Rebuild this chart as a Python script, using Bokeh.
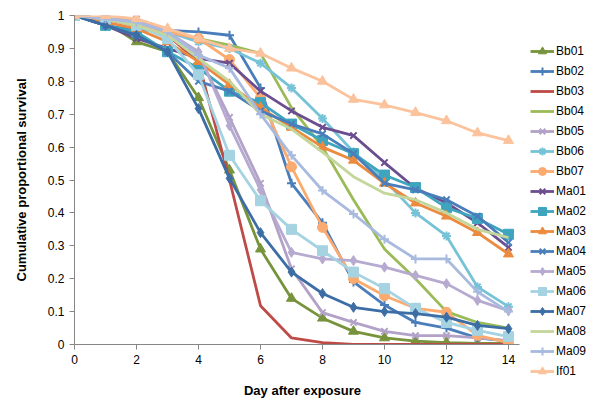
from bokeh.plotting import figure
from bokeh.models import Range1d, FixedTicker, CustomJSTickFormatter, Legend, LegendItem
from bokeh.embed import file_html
from bokeh.resources import INLINE

days = list(range(15))
x_ticks = [0, 2, 4, 6, 8, 10, 12, 14]
y_ticks = [0, 0.1, 0.2, 0.3, 0.4, 0.5, 0.6, 0.7, 0.8, 0.9, 1]

names = ["Bb01", "Bb02", "Bb03", "Bb04", "Bb05", "Bb06", "Bb07", "Ma01", "Ma02",
         "Ma03", "Ma04", "Ma05", "Ma06", "Ma07", "Ma08", "Ma09", "If01"]

Bb01 = [1, 0.98, 0.92, 0.89, 0.75, 0.53, 0.29, 0.14, 0.08, 0.04, 0.02, 0.01, 0.006, 0.003, 0.003]
Bb02 = [1, 0.97, 0.955, 0.955, 0.95, 0.94, 0.78, 0.49, 0.37, 0.19, 0.12, 0.067, 0.05, 0.02, 0.01]
Bb03 = [1, 0.99, 0.97, 0.94, 0.86, 0.50, 0.118, 0.02, 0.006, 0, 0, 0, 0, 0, 0]
Bb04 = [1, 0.99, 0.97, 0.95, 0.93, 0.91, 0.885, 0.72, 0.60, 0.44, 0.29, 0.20, 0.10, 0.067, 0.05]
Bb05 = [1, 0.99, 0.99, 0.95, 0.88, 0.69, 0.49, 0.23, 0.097, 0.067, 0.04, 0.027, 0.027, 0.02, 0.012]
Bb06 = [1, 0.99, 0.97, 0.95, 0.92, 0.90, 0.855, 0.78, 0.687, 0.585, 0.50, 0.40, 0.33, 0.175, 0.115]
Bb07 = [1, 0.99, 0.97, 0.95, 0.93, 0.866, 0.75, 0.54, 0.356, 0.20, 0.148, 0.11, 0.098, 0.028, 0.006]
Ma01 = [1, 0.97, 0.93, 0.90, 0.87, 0.855, 0.77, 0.71, 0.66, 0.635, 0.553, 0.475, 0.43, 0.37, 0.295]
Ma02 = [1, 0.97, 0.95, 0.89, 0.84, 0.77, 0.735, 0.67, 0.62, 0.58, 0.515, 0.477, 0.416, 0.383, 0.335]
Ma03 = [1, 0.98, 0.96, 0.92, 0.86, 0.79, 0.72, 0.66, 0.60, 0.56, 0.49, 0.43, 0.39, 0.34, 0.275]
Ma04 = [1, 0.97, 0.94, 0.89, 0.80, 0.77, 0.71, 0.67, 0.64, 0.58, 0.49, 0.47, 0.44, 0.39, 0.31]
Ma05 = [1, 0.99, 0.98, 0.95, 0.89, 0.665, 0.47, 0.28, 0.26, 0.255, 0.235, 0.21, 0.185, 0.134, 0.103]
Ma06 = [1, 0.99, 0.97, 0.93, 0.82, 0.575, 0.437, 0.35, 0.285, 0.22, 0.17, 0.11, 0.067, 0.043, 0.024]
Ma07 = [1, 0.97, 0.94, 0.89, 0.717, 0.505, 0.34, 0.22, 0.155, 0.113, 0.10, 0.094, 0.083, 0.058, 0.048]
Ma08 = [1, 0.99, 0.97, 0.94, 0.87, 0.80, 0.70, 0.655, 0.585, 0.51, 0.46, 0.44, 0.40, 0.35, 0.325]
Ma09 = [1, 0.99, 0.98, 0.95, 0.88, 0.84, 0.70, 0.575, 0.468, 0.397, 0.32, 0.26, 0.26, 0.16, 0.10]
If01 = [1, 1.0, 0.99, 0.96, 0.93, 0.90, 0.885, 0.84, 0.80, 0.745, 0.728, 0.705, 0.68, 0.643, 0.62]

values = [Bb01, Bb02, Bb03, Bb04, Bb05, Bb06, Bb07, Ma01, Ma02,
          Ma03, Ma04, Ma05, Ma06, Ma07, Ma08, Ma09, If01]

colors = ["#77933C", "#4A7EBB", "#BE4B48", "#9BBB59", "#B3A2C7", "#76C3D8", "#FBAB6F",
          "#6B4E8F", "#3FA5BE", "#EB8B3F", "#4A7EBB", "#B7AAD1", "#A5D3E2", "#3D6DA5",
          "#C3D69B", "#A9BADF", "#FBC29B"]
markers = ["triangle", "cross", None, None, "x", "asterisk", "circle",
           "x", "square", "triangle", "x", "diamond", "square", "diamond",
           None, "cross", "triangle"]

p = figure(frame_width=456, frame_height=329, output_backend="svg", toolbar_location=None,
           x_range=Range1d(0, 14.71), y_range=Range1d(0, 1),
           min_border_left=74, min_border_right=0, min_border_top=15, min_border_bottom=56)
p.outline_line_color = None
p.xgrid.visible = False
p.ygrid.visible = False
p.background_fill_color = "white"

items = []
for name, vals, col, mk in zip(names, values, colors, markers):
    rs = [p.line(days, vals, line_color=col, line_width=2.8)]
    if mk is not None:
        lw = 2 if mk in ("x", "cross", "asterisk") else 1
        sz = 10 if mk in ("triangle", "square", "diamond", "circle") else 9
        rs.append(p.scatter(days, vals, marker=mk, size=sz, fill_color=col,
                            line_color=col, line_width=lw))
    items.append(LegendItem(label=name, renderers=rs))

for ax in (p.xaxis[0], p.yaxis[0]):
    ax.axis_line_color = "#868686"
    ax.major_tick_line_color = "#868686"
    ax.major_tick_out = 5
    ax.major_tick_in = 0
    ax.minor_tick_line_color = None
    ax.major_label_text_font = "Liberation Sans"
    ax.major_label_text_font_size = "12px"
    ax.major_label_text_color = "#000000"
    ax.axis_label_text_font = "Liberation Sans"
    ax.axis_label_text_font_size = "13px"
    ax.axis_label_text_font_style = "bold"
    ax.axis_label_text_color = "#000000"

p.xaxis.ticker = FixedTicker(ticks=x_ticks)
p.xaxis.bounds = (0, 14.35)
p.yaxis.ticker = FixedTicker(ticks=y_ticks)
p.yaxis.formatter = CustomJSTickFormatter(
    code="return (tick < 0.001 || tick > 0.999) ? tick.toFixed(0) : tick.toFixed(1);")
p.xaxis.axis_label = "Day after exposure"
p.yaxis.axis_label = "Cumulative proportional survival"
p.xaxis.axis_label_standoff = 16
p.yaxis.axis_label_standoff = 16

legend = Legend(items=items, location="top_left")
legend.title = " "
legend.title_text_font_size = "12px"
legend.title_standoff = 12
legend.label_text_font = "Liberation Sans"
legend.label_text_font_size = "12px"
legend.label_text_color = "#000000"
legend.glyph_width = 24
legend.glyph_height = 20
legend.label_height = 20
legend.spacing = 0
legend.padding = 0
legend.margin = 0
legend.label_standoff = 2
legend.border_line_color = None
legend.background_fill_alpha = 0
p.add_layout(legend, "right")

open("out.html", "w").write(file_html(p, INLINE))
